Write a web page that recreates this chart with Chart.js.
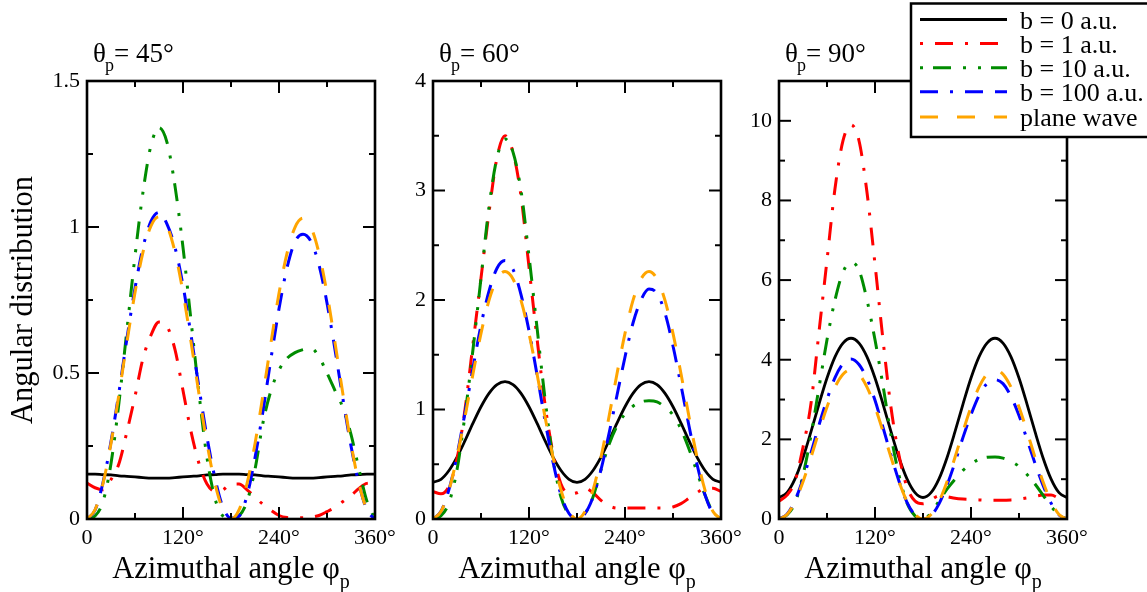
<!DOCTYPE html>
<html><head><meta charset="utf-8">
<script src="https://cdn.jsdelivr.net/npm/chart.js@4.4.1/dist/chart.umd.min.js"></script>
<style>
html,body{margin:0;padding:0;background:#fff;}
#wrap{position:relative;width:1147px;height:592px;overflow:hidden;background:#fff;}
canvas{position:absolute;top:0;}
#fp{position:absolute;left:-1000px;top:0;font-family:"Liberation Serif";font-size:25px;}
</style></head><body>
<div id="fp">Azimuthal θ φ 0123456789 °</div>
<div id="wrap">
<canvas id="c1" width="410" height="592" style="left:0px"></canvas>
<canvas id="c2" width="370" height="592" style="left:390px"></canvas>
<canvas id="c3" width="410" height="592" style="left:737px"></canvas>
</div>
<script>
// ---------- data ----------
const phi = [0,10,20,30,40,50,60,70,80,90,100,110,120,130,140,150,160,170,180,190,200,210,220,230,240,250,260,270,280,290,300,310,320,330,340,350,360];
const seriesLabels = ['b = 0 a.u.','b = 1 a.u.','b = 10 a.u.','b = 100 a.u.','plane wave'];
const xTickValues = [0,120,240,360];
const xTickLabels = ['0','120°','240°','360°'];
const panelTitles = ['45°','60°','90°'];

const t45_b0   = [0.154,0.154,0.152,0.151,0.148,0.146,0.144,0.142,0.140,0.140,0.140,0.142,0.144,0.146,0.148,0.151,0.152,0.154,0.154,0.154,0.152,0.151,0.148,0.146,0.144,0.142,0.140,0.140,0.140,0.142,0.144,0.146,0.148,0.151,0.152,0.154,0.154];
const t45_b1   = [0.123,0.107,0.100,0.135,0.19,0.30,0.42,0.55,0.63,0.675,0.66,0.58,0.44,0.30,0.19,0.12,0.095,0.10,0.12,0.12,0.10,0.075,0.05,0.03,0.012,0.005,0.004,0.004,0.006,0.012,0.025,0.04,0.06,0.08,0.105,0.122,0.123];
const t45_b10  = [0,0.01,0.06,0.19,0.40,0.65,0.90,1.12,1.28,1.34,1.29,1.14,0.93,0.68,0.43,0.21,0.07,0.01,0,0.01,0.06,0.17,0.33,0.44,0.51,0.55,0.57,0.58,0.585,0.555,0.50,0.44,0.38,0.29,0.17,0.06,0];
const t45_b100 = [0,0.03,0.125,0.265,0.435,0.62,0.79,0.93,1.02,1.05,1.01,0.93,0.80,0.63,0.45,0.28,0.14,0.04,0.003,0.01,0.08,0.21,0.37,0.55,0.72,0.86,0.95,0.975,0.95,0.87,0.74,0.58,0.41,0.25,0.12,0.03,0];
const t45_pw   = [0,0.031,0.121,0.259,0.428,0.607,0.776,0.914,1.004,1.035,1.004,0.914,0.776,0.607,0.428,0.259,0.121,0.031,0,0.031,0.121,0.258,0.426,0.604,0.773,0.910,0.999,1.03,0.999,0.910,0.773,0.604,0.426,0.258,0.121,0.031,0];

const t60_b0   = [0.335,0.363,0.443,0.565,0.715,0.875,1.025,1.147,1.227,1.255,1.227,1.147,1.025,0.875,0.715,0.565,0.443,0.363,0.335,0.363,0.443,0.565,0.715,0.875,1.025,1.147,1.227,1.255,1.227,1.147,1.025,0.875,0.715,0.565,0.443,0.363,0.335];
const t60_b1   = [0.25,0.23,0.30,0.55,1.0,1.6,2.2,2.8,3.3,3.5,3.35,2.95,2.3,1.65,1.05,0.6,0.32,0.23,0.24,0.28,0.24,0.17,0.12,0.10,0.10,0.10,0.10,0.10,0.10,0.10,0.11,0.14,0.19,0.24,0.28,0.28,0.25];
const t60_b10  = [0,0.03,0.15,0.45,0.95,1.55,2.2,2.85,3.3,3.47,3.35,3.0,2.4,1.75,1.1,0.55,0.2,0.04,0,0.05,0.2,0.45,0.68,0.85,0.96,1.03,1.07,1.08,1.07,1.02,0.95,0.82,0.64,0.43,0.22,0.06,0];
const t60_b100 = [0,0.07,0.27,0.58,0.97,1.38,1.77,2.08,2.29,2.36,2.28,2.05,1.72,1.32,0.9,0.52,0.22,0.05,0,0.05,0.2,0.45,0.78,1.13,1.48,1.79,2.0,2.1,2.06,1.88,1.58,1.22,0.85,0.5,0.22,0.05,0];
const t60_pw   = [0,0.068,0.264,0.565,0.934,1.326,1.695,1.996,2.192,2.26,2.192,1.996,1.695,1.326,0.934,0.565,0.264,0.068,0,0.068,0.264,0.565,0.934,1.326,1.695,1.996,2.192,2.26,2.192,1.996,1.695,1.326,0.934,0.565,0.264,0.068,0];

const t90_b0   = [0.54,0.661,1.008,1.54,2.193,2.887,3.54,4.072,4.419,4.54,4.419,4.072,3.54,2.887,2.193,1.54,1.008,0.661,0.54,0.661,1.008,1.54,2.193,2.887,3.54,4.072,4.419,4.54,4.419,4.072,3.54,2.887,2.193,1.54,1.008,0.661,0.54];
const t90_b1   = [0.45,0.6,0.95,1.8,2.9,4.7,6.5,8.3,9.5,9.9,9.5,8.2,6.4,4.5,2.8,1.6,0.8,0.45,0.38,0.48,0.58,0.56,0.52,0.50,0.49,0.48,0.47,0.47,0.47,0.48,0.50,0.53,0.57,0.60,0.60,0.52,0.45];
const t90_b10  = [0,0.1,0.4,1.1,2.1,3.3,4.5,5.5,6.2,6.45,6.25,5.5,4.5,3.35,2.1,1.1,0.4,0.08,0,0.15,0.45,0.75,1.0,1.22,1.38,1.5,1.55,1.56,1.53,1.45,1.32,1.12,0.88,0.6,0.32,0.1,0];
const t90_b100 = [0,0.12,0.47,1.0,1.66,2.36,3.0,3.55,3.9,4.02,3.88,3.52,2.98,2.3,1.6,0.95,0.42,0.1,0,0.08,0.38,0.85,1.42,2.05,2.62,3.1,3.4,3.5,3.4,3.08,2.6,2.0,1.4,0.85,0.4,0.1,0];
const t90_pw   = [0,0.113,0.439,0.938,1.549,2.201,2.813,3.311,3.637,3.75,3.637,3.311,2.813,2.201,1.549,0.938,0.439,0.113,0,0.113,0.439,0.938,1.549,2.201,2.813,3.311,3.637,3.75,3.637,3.311,2.813,2.201,1.549,0.938,0.439,0.113,0];

// ---------- styles ----------
const SERIF = '"Liberation Serif", "DejaVu Serif", serif';
const F = s => s + 'px ' + SERIF;
const styles = [
  {color:'#000000', width:2.8, dash:[], legendOffset:0},
  {color:'#ff0000', width:3, dash:[18,12,3,12], legendOffset:30},
  {color:'#008c00', width:3, dash:[18,12,3,12,3,10], legendOffset:45},
  {color:'#0000ff', width:3, dash:[18,12,18,12,3,12], legendOffset:30},
  {color:'#ffa500', width:3, dash:[18,19], legendOffset:0}
];

const decor = {
  id:'decor',
  afterDraw(chart, args, o){
    const ctx = chart.ctx, a = chart.chartArea, xs = chart.scales.x, ys = chart.scales.y;
    ctx.save();
    ctx.strokeStyle = '#000'; ctx.fillStyle = '#000';
    const line = (x1,y1,x2,y2)=>{ctx.beginPath();ctx.moveTo(x1,y1);ctx.lineTo(x2,y2);ctx.stroke();};
    ctx.lineWidth = 2;
    xs.ticks.forEach(t=>{
      const px = xs.getPixelForValue(t.value);
      const L = (t.value % 120 === 0) ? 12 : 6;
      line(px,a.bottom,px,a.bottom-L); line(px,a.top,px,a.top+L);
    });
    ys.ticks.forEach(t=>{
      const py = ys.getPixelForValue(t.value);
      const r = t.value/o.yMajor;
      const L = Math.abs(r-Math.round(r))<1e-6 ? 12 : 6;
      line(a.left,py,a.left+L,py); line(a.right,py,a.right-L,py);
    });
    ctx.lineWidth = 2.6;
    ctx.strokeRect(a.left,a.top,a.right-a.left,a.bottom-a.top);

    // panel title θp = ..
    ctx.textAlign='left'; ctx.textBaseline='alphabetic';
    let x0 = a.left + 6;
    ctx.font = F(27); ctx.fillText('θ', x0, 62);
    let w = ctx.measureText('θ').width;
    ctx.font = F(18); ctx.fillText('p', x0 + w - 1, 71);
    let w2 = ctx.measureText('p').width;
    ctx.font = F(27); ctx.fillText('= ' + o.title, x0 + w + w2 - 1, 62);

    // x axis title
    const main = 'Azimuthal angle φ';
    ctx.font = F(30.5); const mw = ctx.measureText(main).width;
    ctx.font = F(20); const sw = ctx.measureText('p').width;
    const cx = (a.left + a.right)/2 - (mw + sw)/2;
    ctx.font = F(30.5); ctx.fillText(main, cx, 578);
    ctx.font = F(20); ctx.fillText('p', cx + mw, 588);

    if (o.yTitle){
      ctx.save();
      ctx.translate(32, (a.top + a.bottom)/2);
      ctx.rotate(-Math.PI/2);
      ctx.textAlign='center';
      ctx.font = F(30.5);
      ctx.fillText('Angular distribution', 0, 0);
      ctx.restore();
    }

    if (o.legend){
      const bx = 911 - o.pageLeft, by = 3.5, bw = chart.width - bx + 5, bh = 133.5;
      ctx.fillStyle = '#fff'; ctx.fillRect(bx, by, bw, bh);
      ctx.lineWidth = 2.5; ctx.strokeStyle = '#000'; ctx.strokeRect(bx, by, bw, bh);
      const rows = [19.5, 43.5, 67.7, 91.8, 117];
      chart.data.datasets.forEach((ds, i)=>{
        const st = styles[i];
        ctx.save();
        ctx.strokeStyle = st.color; ctx.lineWidth = st.width;
        ctx.setLineDash(st.dash); ctx.lineDashOffset = st.legendOffset;
        line(920 - o.pageLeft, rows[i], 1007 - o.pageLeft, rows[i]);
        ctx.restore();
        ctx.fillStyle = '#000'; ctx.font = F(26); ctx.textAlign='left';
        ctx.fillText(ds.label, 1020 - o.pageLeft, rows[i] + 9);
      });
    }
    ctx.restore();
  }
};

function makePanel(id, pageLeft, canvasWidth, plotLeft, plotRight, yMax, yStep, yMajor, title, arrays, extra){
  const datasets = arrays.map((arr, i)=>({
    label: seriesLabels[i],
    data: phi.map((p, k)=>({x:p, y:arr[k]})),
    borderColor: styles[i].color,
    borderWidth: styles[i].width,
    borderDash: styles[i].dash,
    pointRadius: 0,
    fill: false,
    cubicInterpolationMode: 'monotone',
    order: 4 - i
  }));
  return new Chart(document.getElementById(id), {
    type:'line',
    data:{datasets},
    plugins:[decor],
    options:{
      responsive:false, animation:false, devicePixelRatio:1,
      layout:{padding:{left:0, right: pageLeft + canvasWidth - plotRight, top:81, bottom:0}},
      plugins:{
        legend:{display:false}, tooltip:{enabled:false},
        decor:Object.assign({title, yMajor, pageLeft}, extra)
      },
      scales:{
        x:{type:'linear', min:0, max:360,
           grid:{display:false, drawTicks:false}, border:{display:false},
           ticks:{stepSize:60, autoSkip:false, maxRotation:0, padding:6, color:'#000',
                  font:{family:SERIF, size:22},
                  callback:v=>{const i = xTickValues.indexOf(v); return i>=0 ? xTickLabels[i] : '';}},
           afterFit:s=>{s.height = 592 - 519;}},
        y:{type:'linear', min:0, max:yMax,
           grid:{display:false, drawTicks:false}, border:{display:false},
           ticks:{stepSize:yStep, autoSkip:false, padding:7, color:'#000',
                  font:{family:SERIF, size:22},
                  callback:v=>{const r=v/yMajor; return Math.abs(r-Math.round(r))<1e-6 ? String(+v.toFixed(2)) : '';}},
           afterFit:s=>{s.width = plotLeft - pageLeft;}}
      }
    }
  });
}

function build(){
  makePanel('c1', 0, 410, 87, 375, 1.5, 0.25, 0.5, panelTitles[0], [t45_b0,t45_b1,t45_b10,t45_b100,t45_pw], {yTitle:true});
  makePanel('c2', 390, 370, 433, 721, 4, 0.5, 1, panelTitles[1], [t60_b0,t60_b1,t60_b10,t60_b100,t60_pw], {});
  makePanel('c3', 737, 410, 779, 1067, 11, 1, 2, panelTitles[2], [t90_b0,t90_b1,t90_b10,t90_b100,t90_pw], {legend:true});
}
let built = false;
function go(){ if(!built){ built = true; build(); } }
if (document.fonts && document.fonts.load) {
  Promise.all([document.fonts.load(F(25)), document.fonts.load(F(21)), document.fonts.load(F(17))])
    .then(go, go);
  setTimeout(go, 300);
} else { go(); }
</script>
</body></html>
